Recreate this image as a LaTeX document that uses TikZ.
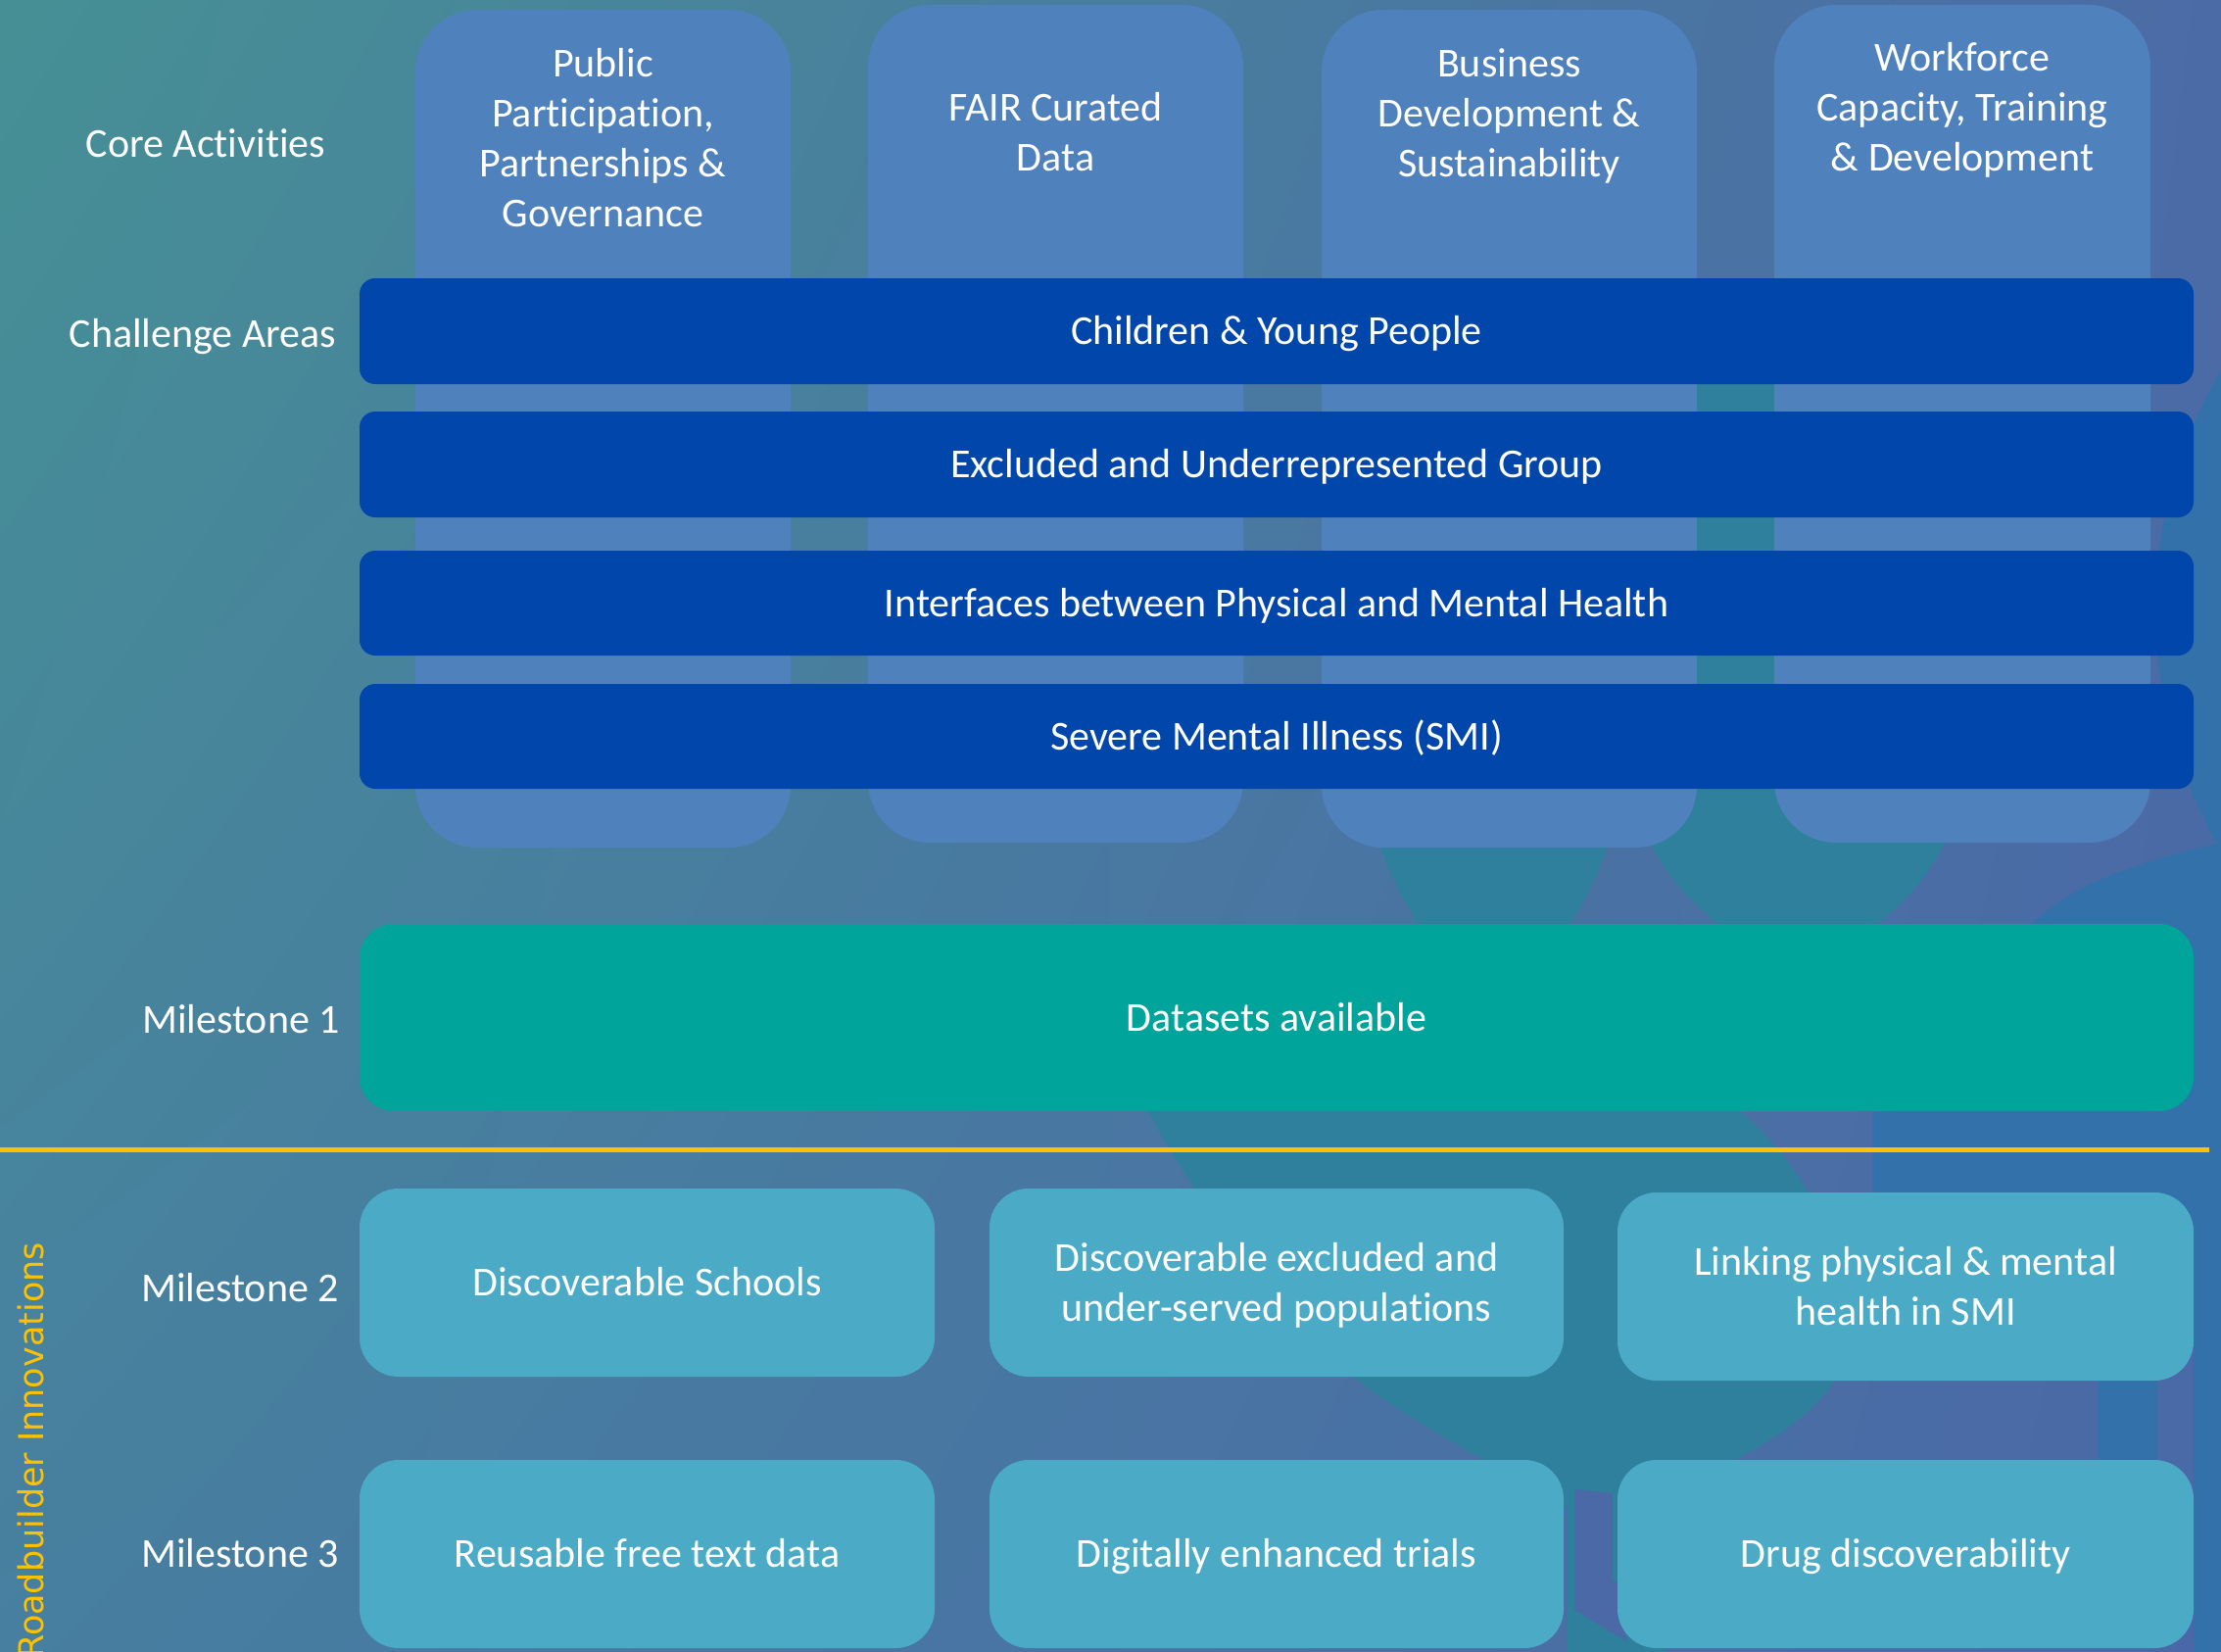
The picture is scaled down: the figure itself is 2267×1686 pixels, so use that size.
\documentclass[tikz,border=0pt]{standalone}
\usepackage{fontspec}
\usetikzlibrary{shadings}
\setmainfont{Carlito}[Ligatures=NoCommon]
\newfontfamily\rbfont{DejaVu Sans}
\newcommand\st{\rule[-12pt]{0pt}{51pt}}
\definecolor{bgUL}{HTML}{469095}
\definecolor{bgUR}{HTML}{4B6BA6}
\definecolor{bgLL}{HTML}{477FA0}
\definecolor{bgLR}{HTML}{4A68A7}
\definecolor{decoteal}{HTML}{2E809C}
\definecolor{decoblue}{HTML}{3271A9}
\definecolor{decopurple}{HTML}{4A69A6}
\definecolor{colblue}{HTML}{4F81BD}
\definecolor{barblue}{HTML}{0046AB}
\definecolor{msteal}{HTML}{00A49B}
\definecolor{msaqua}{HTML}{4BABC6}
\definecolor{gold}{HTML}{FFC000}
\begin{document}
\begin{tikzpicture}[x=1pt,y=-1pt,
  lbl/.style={font=\fontsize{42}{51}\selectfont, text=white, align=center, inner sep=0pt},
  colbox/.style={fill=colblue, draw=none, rounded corners=63pt, minimum width=383pt, minimum height=855pt, inner sep=0pt},
  barbox/.style={lbl, fill=barblue, draw=none, rounded corners=16pt, minimum width=1872pt, minimum height=107pt},
  m1box/.style={lbl, fill=msteal, draw=none, rounded corners=35pt, minimum width=1872pt, minimum height=191pt},
  msbox/.style={lbl, fill=msaqua, draw=none, rounded corners=40pt, minimum width=587pt, minimum height=192pt},
  rowlbl/.style={lbl, anchor=east}
]
\useasboundingbox (0,0) rectangle (2267,1686);
% background
\shade[upper left=bgUL, upper right=bgUR, lower left=bgLL, lower right=bgLR] (0,0) rectangle (2267,1686);
% decorative shapes
\fill[decoteal] (1835,650) ellipse[x radius=200pt, y radius=320pt];
\fill[decoteal] (1525,700) ellipse[x radius=140pt, y radius=290pt];
\fill[decoteal] (1140,1060) .. controls (1160,1130) and (1250,1280) .. (1384,1407)
  .. controls (1450,1460) and (1540,1500) .. (1600,1540) -- (1600,1686) -- (1700,1686) -- (1770,1490)
  .. controls (1850,1450) and (1900,1400) .. (1889,1330)
  .. controls (1880,1250) and (1820,1170) .. (1777,1135) -- (1760,1060) -- cycle;
\fill[decoblue] (2680,623) circle[radius=480pt];
\fill[decoblue] (2267,860) .. controls (2180,880) and (2110,905) .. (2077,941)
  .. controls (1990,1010) and (1925,1080) .. (1911,1135) -- (1911,1300) -- (2142,1300) -- (2142,1490)
  -- (2202,1490) -- (2202,1300) -- (2239,1300) -- (2239,1686) -- (2267,1686) -- cycle;
\fill[decopurple] (1607,1520) -- (1646,1524) -- (1646,1613) -- (1660,1620) -- (1660,1675) -- (1607,1643) -- cycle;

% core activity columns
\node[colbox] (c1) at (615.5,437.5) {};
\node[colbox] (c2) at (1077.5,432.5) {};
\node[colbox] (c3) at (1540.5,437.5) {};
\node[colbox, minimum width=384pt] (c4) at (2003,432.5) {};
\node[lbl] (c1t) at (615.5,141) {\st Public\\\st Participation,\\\st Partnerships \&\\\st Governance};
\node[lbl] (c2t) at (1077.5,135) {\st FAIR Curated\\\st Data};
\node[lbl] (c3t) at (1540.5,115.5) {\st Business\\\st Development \&\\\st Sustainability};
\node[lbl] (c4t) at (2003,110) {\st Workforce\\\st Capacity, Training\\\st \& Development};

% challenge bars
\node[barbox, minimum height=108pt] (b1) at (1303,338) {\st Children \& Young People};
\node[barbox, minimum height=108pt] (b2) at (1303,474) {\st Excluded and Underrepresented Group};
\node[barbox] (b3) at (1303,615.5) {\st Interfaces between Physical and Mental Health};
\node[barbox] (b4) at (1303,751.5) {\st Severe Mental Illness (SMI)};

% milestone 1
\node[m1box] (m1) at (1303,1038.5) {\st Datasets available};

% divider
\coordinate (yl) at (0,1173);
\coordinate (yr) at (2255,1173);
\draw[gold, line width=5pt] (yl) -- (yr);

% milestone 2
\node[msbox] (m21) at (660.5,1309) {\st Discoverable Schools};
\node[msbox, minimum width=586pt] (m22) at (1303,1309) {\st Discoverable excluded and\\\st under-served populations};
\node[msbox, minimum width=588pt] (m23) at (1945,1313) {\st Linking physical \& mental\\\st health in SMI};
% milestone 3
\node[msbox] (m31) at (660.5,1586) {\st Reusable free text data};
\node[msbox, minimum width=586pt] (m32) at (1303,1586) {\st Digitally enhanced trials};
\node[msbox, minimum width=588pt] (m33) at (1945,1586) {\st Drug discoverability};

% row labels
\node[lbl] (lca) at (210,146.5) {\st Core Activities};
\node[lbl] (lch) at (207,340.5) {\st Challenge Areas};
\node[rowlbl] (lm1) at (347,1041) {\st Milestone 1};
\node[rowlbl] (lm2) at (346,1314.5) {\st Milestone 2};
\node[rowlbl] (lm3) at (346,1585.5) {\st Milestone 3};
\node[rotate=90, anchor=base east, inner sep=0pt, text=gold, font=\rbfont\fontsize{35}{42}\selectfont] (rb) at (44,1268) {Roadbuilder Innovations};
\end{tikzpicture}
\end{document}
